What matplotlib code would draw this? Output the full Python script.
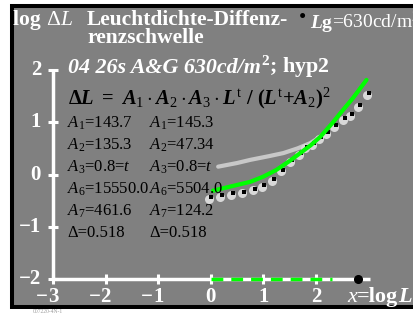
import matplotlib
matplotlib.use("Agg")
import matplotlib.pyplot as plt
from matplotlib.patches import Rectangle
from matplotlib.transforms import offset_copy

plt.rcParams['font.family'] = ['Liberation Serif', 'DejaVu Serif']
plt.rcParams['mathtext.fontset'] = 'custom'
plt.rcParams['mathtext.rm'] = 'Liberation Serif'
plt.rcParams['mathtext.it'] = 'Liberation Serif:italic:bold'
plt.rcParams['mathtext.bf'] = 'Liberation Serif:bold'
plt.rcParams['mathtext.sf'] = 'Liberation Serif:italic'

# ---- data ----
fit_x = [0.04, 0.5, 0.75, 1.0, 1.25, 1.5, 1.7, 1.9, 2.08, 2.3, 2.46, 2.7, 2.96]
fit_y = [-0.31, -0.2, -0.14, -0.04, 0.09, 0.26, 0.41, 0.56, 0.72, 0.97, 1.17, 1.46, 1.81]
alt_x = [0.14, 0.5, 0.75, 1.1, 1.38, 1.65, 1.89, 2.05, 2.2]
alt_y = [0.15, 0.22, 0.28, 0.35, 0.41, 0.5, 0.60, 0.70, 0.82]
obs_x = [0.00, 0.21, 0.42, 0.63, 0.84, 1.01, 1.20, 1.37, 1.54, 1.71, 1.83, 1.96,
         2.10, 2.23, 2.38, 2.55, 2.68, 2.84, 3.00]
obs_y = [-0.43, -0.39, -0.36, -0.33, -0.27, -0.20, -0.09, 0.09, 0.28, 0.41, 0.53, 0.60,
         0.72, 0.81, 0.95, 1.08, 1.16, 1.33, 1.56]
xticks = [-3, -2, -1, 0, 1, 2]
yticks = [-2, -1, 0, 1, 2]
lg_log = 2.8
range_x = [0.0, 2.3]
col1 = [r"$\mathsf{A}_1$=143.7", r"$\mathsf{A}_2$=135.3", r"$\mathsf{A}_3$=0.8=$\mathsf{t}$",
        r"$\mathsf{A}_6$=15550.0", r"$\mathsf{A}_7$=461.6", "Δ=0.518"]
col2 = [r"$\mathsf{A}_1$=145.3", r"$\mathsf{A}_2$=47.34", r"$\mathsf{A}_3$=0.8=$\mathsf{t}$",
        r"$\mathsf{A}_6$=5504.0", r"$\mathsf{A}_7$=124.2", "Δ=0.518"]

W, H = 413, 313
fig = plt.figure(figsize=(W / 100, H / 100), dpi=100)
ax = fig.add_axes([0, 0, 1, 1])
ax.axis('off')
renderer = fig.canvas.get_renderer()
# pixel -> data mapping
X0, SX = 210.8, 52.6
Y0, SY = 174.5, 52.25
ax.set_xlim((0 - X0) / SX, (W - X0) / SX)
ax.set_ylim((Y0 - H) / SY, Y0 / SY)

def px(x, y):
    return x / W, 1 - y / H

def seq(x, y, pieces):
    for s, kw in pieces:
        t = fig.text(x / W, 1 - y / H, s, va='baseline', **kw)
        x += t.get_window_extent(renderer).width

# background panel
ax.add_patch(Rectangle(((11.5 - X0) / SX, (Y0 - 306.5) / SY), (430 - 11.5) / SX, (306.5 - 5.5) / SY,
                       facecolor='#808080', edgecolor='black', lw=2.9, zorder=0))

white = 'white'
# axes lines
ax.plot([-3, 3.03], [-2, -2], color=white, lw=2.5, solid_capstyle='butt', zorder=2)
ax.plot([-3, -3], [-2, 2], color=white, lw=2.5, solid_capstyle='butt', zorder=2)
ax.plot(xticks, [-2] * len(xticks), ls='none', marker='|', ms=7.5, mew=2.2, color=white, zorder=2)
ax.plot([-3] * len(yticks), yticks, ls='none', marker='_', ms=7.5, mew=2.2, color=white, zorder=2)
ax.plot(range_x, [-2, -2], color='#00ff00', lw=2.5, dashes=(3.4, 2.3), zorder=3)
ax.plot([lg_log], [-2], 'o', color='black', ms=5.5, zorder=4)

# curves
ax.plot(alt_x, alt_y, color='#c8c8c8', lw=3, solid_capstyle='round', zorder=3)
halo = offset_copy(ax.transData, fig=fig, x=-1.5, y=-1.2, units='points')
ax.plot(obs_x, obs_y, ls='none', marker='o', ms=6.5, color='#d8d8d8', mew=0, transform=halo, zorder=4)
ax.plot(obs_x, obs_y, ls='none', marker='s', ms=3.2, color='black', mew=0, zorder=5)
ax.plot(fit_x, fit_y, color='#00ff00', lw=3, solid_capstyle='round', zorder=6)

# tick labels (digit centred on tick, minus sign hanging left)
for t in xticks:
    fig.text((X0 + SX * t) / W, 1 - 302 / H, "%d" % abs(t),
             color=white, weight='bold', fontsize=15, ha='center', va='baseline')
    if t < 0:
        fig.text((X0 + SX * t - 5) / W, 1 - 302 / H, "−",
                 color=white, weight='bold', fontsize=15, ha='right', va='baseline')
for t in yticks:
    fig.text(41 / W, 1 - (Y0 - SY * t) / H, "−%d" % -t if t < 0 else "%d" % t,
             color=white, weight='bold', fontsize=15, ha='right', va='center')

# header texts
bw = dict(color=white, weight='bold')
seq(13, 25, [("log ", dict(bw, fontsize=15.5)), ("Δ", dict(color=white, fontsize=15.5)),
             ("L", dict(color=white, style='italic', fontsize=15.5))])
fig.text(*px(87, 25), "Leuchtdichte-Diffenz-", va='baseline', fontsize=15.5, **bw)
fig.text(*px(87, 43), "renzschwelle", va='baseline', fontsize=15.5, **bw)
fig.text(*px(303, 19), "•", color='black', fontsize=15, ha='center', va='center')
seq(310, 28, [("L", dict(color=white, style='italic', weight='bold', fontsize=14)),
              ("g", dict(color=white, weight='bold', fontsize=14)),
              ("=630cd/m$^2$", dict(color=white, fontsize=14))])
seq(68, 73, [("04 26s A&G 630cd/m", dict(bw, style='italic', fontsize=15.8)),
             ("$^{\\mathbf{2}}$; hyp2", dict(bw, fontsize=15.8))])
fig.text(*px(68, 104),
         r"$\mathbf{\Delta}L\ \mathbf{=}\ A_1 \cdot A_2 \cdot A_3 \cdot "
         r"L^{\mathrm{t}}\ \mathbf{/}\ \mathbf{(}L^{\mathrm{t}}\mathbf{+}A_2\mathbf{)}^2$",
         color='black', fontsize=14.8, va='baseline')
rows = [128, 150, 172, 194, 216, 237]
for r, a, b in zip(rows, col1, col2):
    fig.text(*px(67, r), a, color='black', fontsize=12, va='baseline')
    fig.text(*px(149, r), b, color='black', fontsize=12, va='baseline')
seq(347, 302, [("x", dict(color=white, style='italic', fontsize=16)),
               ("=log", dict(bw, fontsize=16)),
               ("L", dict(bw, style='italic', fontsize=16))])
fig.text(*px(33, 313), "007220-4N-1", color='#999999', fontsize=4, va='baseline')

fig.savefig("out.png", dpi=100)
